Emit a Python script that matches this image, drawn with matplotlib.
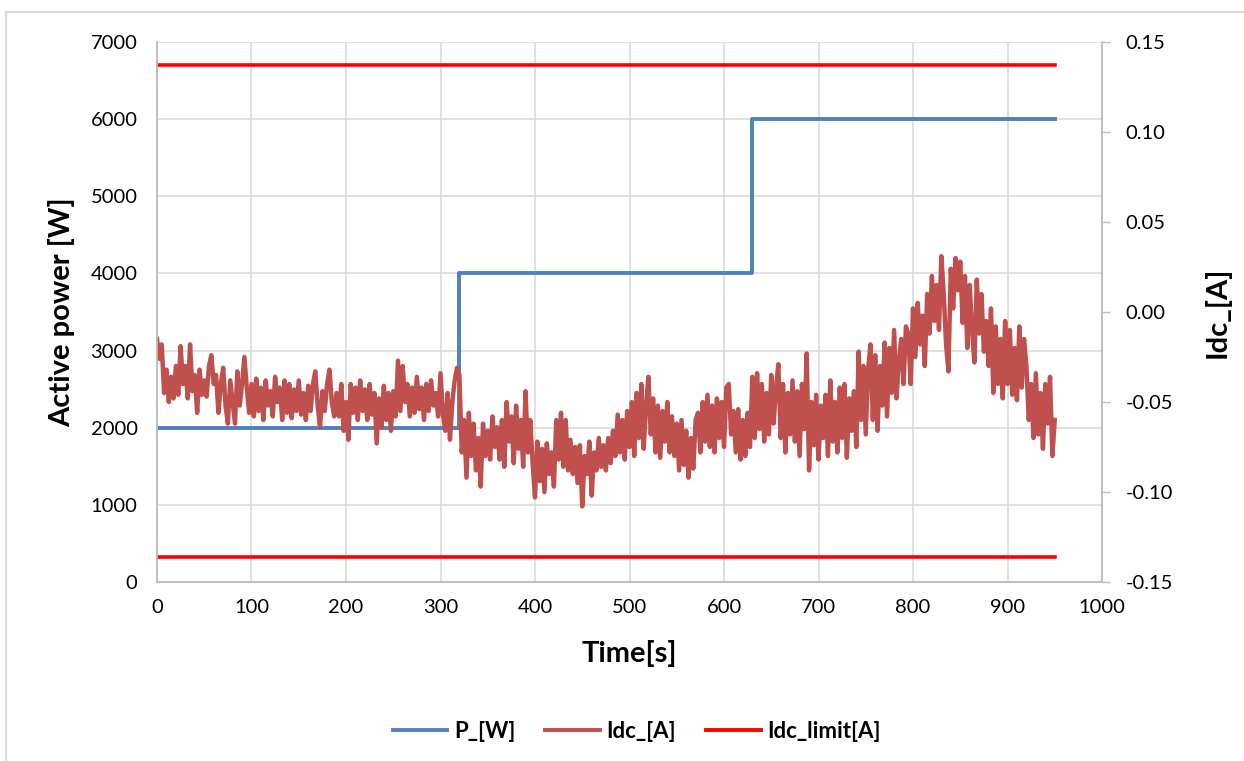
import numpy as np
import matplotlib
matplotlib.use('Agg')
import matplotlib.pyplot as plt
from matplotlib.lines import Line2D

plt.rcParams['font.family'] = ['Lato', 'DejaVu Sans']

# active power steps
p_time = [0, 320, 320, 630, 630, 950]
p_watt = [2000, 2000, 4000, 4000, 6000, 6000]

# dc current, read every 2.5 s off the picture
idc_time = np.arange(0, 951, 2.5)
idc_amp = [
    -0.015, -0.026, -0.018, -0.045, -0.032, -0.050, -0.036, -0.048, -0.030, -0.046,
    -0.019, -0.040, -0.030, -0.048, -0.018, -0.044, -0.035, -0.056, -0.032, -0.046,
    -0.038, -0.047, -0.030, -0.024, -0.040, -0.035, -0.056, -0.040, -0.031, -0.052,
    -0.062, -0.038, -0.050, -0.062, -0.033, -0.052, -0.040, -0.025, -0.042, -0.056,
    -0.040, -0.058, -0.037, -0.055, -0.042, -0.060, -0.038, -0.052, -0.044, -0.058,
    -0.036, -0.050, -0.042, -0.060, -0.038, -0.056, -0.040, -0.059, -0.043, -0.055,
    -0.038, -0.057, -0.045, -0.060, -0.041, -0.055, -0.040, -0.033, -0.052, -0.064,
    -0.044, -0.055, -0.040, -0.032, -0.050, -0.058, -0.045, -0.058, -0.040, -0.066,
    -0.050, -0.071, -0.040, -0.056, -0.042, -0.060, -0.038, -0.055, -0.043, -0.060,
    -0.040, -0.057, -0.045, -0.073, -0.048, -0.064, -0.041, -0.060, -0.045, -0.066,
    -0.044, -0.058, -0.027, -0.055, -0.030, -0.050, -0.040, -0.058, -0.042, -0.056,
    -0.036, -0.054, -0.042, -0.060, -0.040, -0.055, -0.038, -0.052, -0.045, -0.058,
    -0.034, -0.056, -0.066, -0.045, -0.071, -0.050, -0.038, -0.031, -0.035, -0.078,
    -0.060, -0.092, -0.056, -0.080, -0.062, -0.088, -0.070, -0.097, -0.062, -0.080,
    -0.066, -0.082, -0.058, -0.075, -0.064, -0.082, -0.060, -0.086, -0.050, -0.072,
    -0.058, -0.084, -0.052, -0.076, -0.060, -0.086, -0.044, -0.078, -0.060, -0.084,
    -0.103, -0.072, -0.094, -0.076, -0.100, -0.073, -0.090, -0.078, -0.097, -0.060,
    -0.082, -0.056, -0.086, -0.060, -0.088, -0.071, -0.090, -0.075, -0.095, -0.074,
    -0.108, -0.080, -0.090, -0.072, -0.102, -0.078, -0.088, -0.070, -0.086, -0.074,
    -0.088, -0.070, -0.084, -0.066, -0.080, -0.057, -0.078, -0.060, -0.082, -0.055,
    -0.075, -0.050, -0.080, -0.045, -0.070, -0.040, -0.076, -0.052, -0.036, -0.068,
    -0.048, -0.078, -0.052, -0.081, -0.055, -0.072, -0.050, -0.078, -0.058, -0.080,
    -0.062, -0.088, -0.060, -0.085, -0.066, -0.092, -0.070, -0.087, -0.060, -0.056,
    -0.078, -0.050, -0.072, -0.046, -0.075, -0.052, -0.078, -0.048, -0.070, -0.050,
    -0.075, -0.042, -0.040, -0.068, -0.055, -0.078, -0.054, -0.082, -0.060, -0.080,
    -0.056, -0.075, -0.036, -0.070, -0.034, -0.065, -0.040, -0.072, -0.045, -0.068,
    -0.035, -0.062, -0.042, -0.029, -0.070, -0.040, -0.078, -0.045, -0.068, -0.038,
    -0.072, -0.044, -0.080, -0.040, -0.065, -0.023, -0.088, -0.050, -0.074, -0.046,
    -0.082, -0.052, -0.070, -0.046, -0.080, -0.038, -0.072, -0.050, -0.078, -0.042,
    -0.070, -0.040, -0.081, -0.048, -0.066, -0.044, -0.075, -0.022, -0.060, -0.030,
    -0.068, -0.032, -0.018, -0.060, -0.024, -0.066, -0.030, -0.052, -0.017, -0.058,
    -0.020, -0.045, -0.010, -0.048, -0.028, -0.015, -0.040, -0.008, -0.012, -0.040,
    0.002, -0.025, 0.005, -0.018, -0.002, -0.030, 0.010, -0.012, 0.020, -0.005,
    0.015, -0.010, 0.031, 0.010, -0.018, -0.033, 0.024, 0.002, 0.030, 0.012,
    0.028, -0.006, 0.020, -0.020, 0.015, -0.010, -0.028, 0.018, -0.012, 0.010,
    -0.022, -0.005, -0.030, 0.002, -0.045, -0.008, -0.040, -0.015, -0.048, -0.005,
    -0.040, -0.010, -0.046, -0.020, -0.049, -0.008, -0.042, -0.015, -0.030, -0.060,
    -0.040, -0.070, -0.034, -0.068, -0.045, -0.076, -0.040, -0.062, -0.036, -0.080,
    -0.060,
]

# limit lines
lim_time = [0, 950]
lim_hi = 0.137
lim_lo = -0.136

fig = plt.figure(figsize=(12.44, 7.61), dpi=100)
ax = fig.add_axes([157/1244, 1-582/761, (1102-157)/1244, (582-42)/761])
ax2 = ax.twinx()

grid_c = '#D9D9D9'
spine_c = '#BFBFBF'

ax.plot(p_time, p_watt, color='#4F81BD', lw=2.8)
ax2.plot(idc_time, idc_amp, color='#C0504D', lw=3.2)
ax2.plot(lim_time, [lim_hi, lim_hi], color='#FF0000', lw=2.6)
ax2.plot(lim_time, [lim_lo, lim_lo], color='#FF0000', lw=2.6)

ax.set_xlim(0, 1000)
ax.set_ylim(0, 7000)
ax2.set_ylim(-0.15, 0.15)
ax.set_xticks(range(0, 1001, 100))
ax.set_yticks(range(0, 7001, 1000))
rticks = np.round(np.arange(-0.15, 0.151, 0.05), 2)
ax2.set_yticks(rticks)
ax2.set_yticklabels(['%.2f' % v for v in rticks])

ax.grid(True, color=grid_c, lw=1.1)
ax.set_axisbelow(True)
ax.tick_params(axis='both', length=0, labelsize=14.5, colors='black')
ax.tick_params(axis='y', pad=14)
ax.tick_params(axis='x', pad=12)
ax2.tick_params(axis='y', length=6, width=1, color=spine_c, labelsize=14.5, pad=11)

for a in (ax, ax2):
    a.spines['top'].set_visible(False)
    for s in ('left', 'right', 'bottom'):
        a.spines[s].set_color(spine_c)
        a.spines[s].set_linewidth(1.2)

ax.set_xlabel('Time[s]', fontsize=21, fontweight='bold')
ax.set_ylabel('Active power [W]', fontsize=21, fontweight='bold')
ax2.set_ylabel('Idc_[A]', fontsize=21, fontweight='bold')
ax.xaxis.set_label_coords(0.5, -0.108)
ax.yaxis.set_label_coords(-0.087, 0.5)
ax2.yaxis.set_label_coords(1.108, 0.5)

# outer chart frame (left and top edges are visible)
fig.add_artist(Line2D([6/1244, 6/1244], [0, 1-12/761], color=grid_c, lw=1.6))
fig.add_artist(Line2D([6/1244, 1], [1-12/761, 1-12/761], color=grid_c, lw=1.6))

handles = [Line2D([], [], color='#4F81BD', lw=2.8),
           Line2D([], [], color='#C0504D', lw=2.8),
           Line2D([], [], color='#FF0000', lw=2.8)]
fig.legend(handles, ['P_[W]', 'Idc_[A]', 'Idc_limit[A]'], loc='center',
           bbox_to_anchor=(0.512, 1-731/761), ncol=3, frameon=False,
           handlelength=2.45, columnspacing=1.35, handletextpad=0.3,
           prop={'weight': 'bold', 'size': 16})

fig.savefig('out.png', dpi=100)
